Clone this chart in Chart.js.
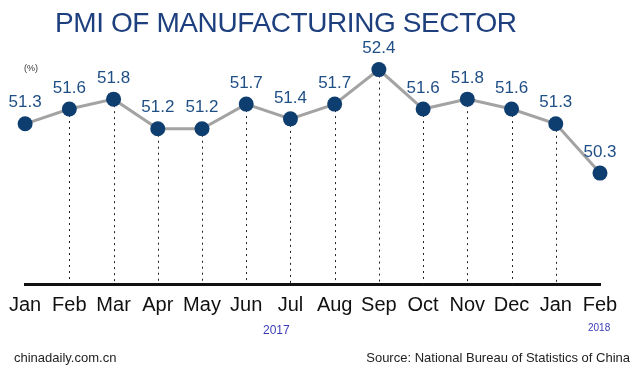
<!DOCTYPE html>
<html lang="en">
<head>
<meta charset="UTF-8">
<title>PMI of Manufacturing Sector</title>
<script src="https://cdn.jsdelivr.net/npm/chart.js"></script>
<style>
    body { margin: 0; background: #fff; font-family: "Liberation Sans", Arial, sans-serif; }
    .wrap { position: relative; width: 640px; height: 376px; }
    .title { position: absolute; left: 55px; top: 7px; font-size: 28px; color: #1d3f7e; letter-spacing: -0.4px; }
    .unit { position: absolute; left: 24px; top: 63px; font-size: 9px; color: #333; }
    .year { position: absolute; color: #3a3ab8; }
    .foot { position: absolute; top: 350px; font-size: 13px; color: #222; }
</style>
</head>
<body>
<div class="wrap">
    <canvas id="pmiChart" width="640" height="376"></canvas>
    <div class="title">PMI OF MANUFACTURING SECTOR</div>
    <div class="unit">(%)</div>
    <div class="year" style="left:263px; top:323px; font-size:12px;">2017</div>
    <div class="year" style="left:588px; top:322px; font-size:10px;">2018</div>
    <div class="foot" style="left:14px;">chinadaily.com.cn</div>
    <div class="foot" style="right:10px;">Source: National Bureau of Statistics of China</div>
</div>

<script>
    const months = ['Jan', 'Feb', 'Mar', 'Apr', 'May', 'Jun', 'Jul', 'Aug', 'Sep', 'Oct', 'Nov', 'Dec', 'Jan', 'Feb'];
    const pmi = [51.3, 51.6, 51.8, 51.2, 51.2, 51.7, 51.4, 51.7, 52.4, 51.6, 51.8, 51.6, 51.3, 50.3];

    // dotted drop lines + value labels
    const decorations = {
        id: 'decorations',
        beforeDatasetsDraw(chart) {
            const ctx = chart.ctx;
            const meta = chart.getDatasetMeta(0);
            const bottom = chart.chartArea.bottom;
            ctx.save();
            ctx.strokeStyle = '#222';
            ctx.lineWidth = 1;
            ctx.setLineDash([2, 4]);
            meta.data.forEach((pt, i) => {
                if (i === 0 || i === meta.data.length - 1) return;
                ctx.beginPath();
                ctx.moveTo(Math.round(pt.x) + 0.5, pt.y);
                ctx.lineTo(Math.round(pt.x) + 0.5, bottom);
                ctx.stroke();
            });
            ctx.restore();
        },
        afterDatasetsDraw(chart) {
            const ctx = chart.ctx;
            const meta = chart.getDatasetMeta(0);
            ctx.save();
            ctx.font = '17px "Liberation Sans", Arial, sans-serif';
            ctx.fillStyle = '#1f4e85';
            ctx.textAlign = 'center';
            ctx.textBaseline = 'middle';
            meta.data.forEach((pt, i) => {
                ctx.fillText(pmi[i].toFixed(1), pt.x, pt.y - 21);
            });
            ctx.restore();
        }
    };

    new Chart(document.getElementById('pmiChart'), {
        type: 'line',
        data: {
            labels: months,
            datasets: [{
                data: pmi,
                borderColor: '#a3a3a3',
                borderWidth: 3,
                pointRadius: 7.5,
                pointBackgroundColor: '#0e3e70',
                pointBorderColor: '#0e3e70',
                pointBorderWidth: 0,
                tension: 0,
                clip: false
            }]
        },
        options: {
            responsive: false,
            animation: false,
            layout: { padding: { top: 40, left: 25, right: 40, bottom: 0 } },
            plugins: {
                legend: { display: false },
                tooltip: { enabled: false }
            },
            scales: {
                x: {
                    grid: { display: false, drawTicks: false },
                    border: { display: true, color: '#111', width: 3 },
                    ticks: {
                        color: '#111',
                        padding: 9,
                        maxRotation: 0,
                        autoSkip: false,
                        font: { family: '"Liberation Sans", Arial, sans-serif', size: 20 }
                    },
                    afterFit(scale) { scale.height = 92; }
                },
                y: {
                    display: false,
                    min: 48.05,
                    max: 53.0
                }
            }
        },
        plugins: [decorations]
    });
</script>
</body>
</html>
